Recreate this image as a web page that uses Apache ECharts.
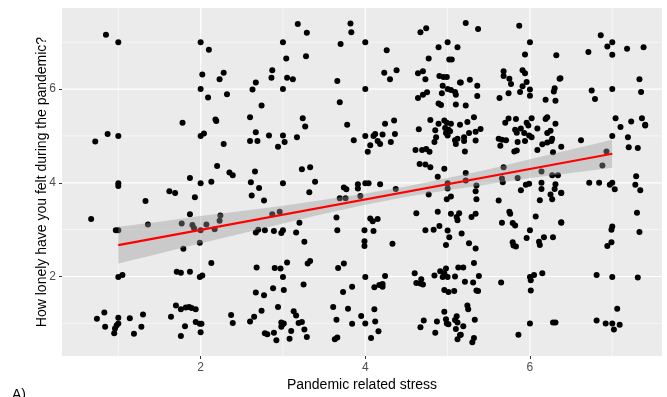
<!DOCTYPE html>
<html><head><meta charset="utf-8">
<script src="https://cdn.jsdelivr.net/npm/echarts@6/dist/echarts.min.js"></script>
<style>html,body{margin:0;padding:0;background:#fff}#c{width:667px;height:397px}</style>
</head><body><div id="c"></div>
<script>
// [stress, loneliness]
const points = [
[0.85,7.16],[1.0,7.0],[0.87,5.04],[1.0,5.0],[0.72,4.88],
[2.0,7.0],[2.10,6.84],[2.02,6.31],[2.28,6.35],[2.23,6.21],[2.67,6.14],[2.0,6.0],[2.63,5.99],[2.09,5.82],[2.32,5.89],[1.78,5.28],[2.18,5.35],[2.19,5.32],[2.60,5.40],[2.67,5.08],[2.0,5.0],[2.04,5.05],[2.28,4.83],[2.60,4.89],[2.69,4.89],[2.20,4.36],[1.87,4.10],[2.35,4.22],[2.39,4.16],[2.66,4.24],
[3.18,7.39],[3.82,7.40],[3.29,7.20],[3.83,7.21],[3.0,7.0],[3.70,6.96],[3.04,6.65],[3.28,6.70],[2.87,6.40],[2.86,6.24],[3.05,6.24],[3.12,6.21],[3.66,6.17],[3.0,6.0],[2.74,5.65],[3.69,5.72],[3.24,5.38],[3.27,5.20],[3.78,5.24],[2.83,5.01],[3.0,5.01],[3.17,4.97],[2.94,4.77],[3.02,4.87],[3.86,4.91],[3.23,4.29],[3.33,4.33],
[4.67,7.21],[4.74,7.30],[4.0,7.0],[5.0,7.0],[4.89,6.89],[5.12,6.89],[4.26,6.83],[4.77,6.65],[5.02,6.63],[5.05,6.63],[4.23,6.35],[4.38,6.40],[4.30,6.21],[4.64,6.34],[4.70,6.38],[4.73,6.21],[4.90,6.28],[4.95,6.26],[4.99,6.26],[5.15,6.14],[4.94,6.07],[4.0,6.0],[5.0,6.0],[5.04,5.98],[5.09,5.94],[5.10,5.88],[4.93,5.91],[4.75,5.93],[4.70,5.88],[4.64,5.81],[4.89,5.69],[4.92,5.66],[5.10,5.67],[4.24,5.26],[4.35,5.33],[4.79,5.34],[4.89,5.26],[4.96,5.33],[4.99,5.28],[5.04,5.26],[5.15,5.24],[4.65,5.14],[4.85,5.12],[4.97,5.17],[5.01,5.13],[5.03,5.10],[4.98,5.06],[5.00,5.01],[4.0,5.0],[4.10,5.0],[4.12,5.04],[4.21,5.03],[4.36,5.04],[4.06,4.80],[4.15,4.89],[4.18,4.83],[4.31,4.87],[4.86,4.97],[4.84,4.87],[5.09,4.91],[5.12,4.94],[5.10,4.83],[4.03,4.66],[4.61,4.70],[4.69,4.70],[4.74,4.72],[4.78,4.66],[4.66,4.40],[4.73,4.39],[4.79,4.33],[4.96,4.30],[4.88,4.13],
[5.22,7.41],[5.37,7.28],[5.87,7.35],[6.0,7.0],[5.94,6.74],[6.32,6.72],[5.68,6.38],[5.68,6.28],[5.75,6.22],[5.77,6.11],[5.91,6.40],[5.94,6.34],[5.96,6.15],[5.91,6.06],[5.88,5.94],[6.0,5.99],[6.0,5.86],[6.36,6.22],[6.30,6.02],[6.29,5.95],[6.31,5.75],[6.19,5.77],[5.27,6.20],[5.16,6.14],[5.36,6.07],[5.36,5.85],[5.74,5.91],[5.63,5.81],[5.22,5.65],[5.24,5.30],[5.32,5.40],[5.34,5.09],[5.26,5.06],[5.40,5.15],[5.20,4.97],[5.20,4.89],[5.34,4.90],[5.21,4.67],[5.70,5.28],[5.74,5.37],[5.83,5.36],[5.82,5.13],[5.84,5.07],[5.89,5.16],[5.93,5.06],[5.96,5.28],[5.98,5.22],[6.02,5.38],[6.09,5.16],[6.21,5.40],[6.19,5.36],[6.31,5.26],[6.25,5.11],[6.21,5.06],[5.99,5.01],[6.02,4.97],[6.27,4.94],[6.26,4.89],[6.21,4.86],[5.62,4.94],[5.66,4.92],[5.71,4.91],[5.64,4.79],[5.85,4.87],[5.94,4.89],[5.81,4.67],[5.84,4.69],[6.15,4.82],[6.09,4.70],[6.28,4.65],[5.68,4.33],[5.22,4.21],[5.66,4.09],[5.85,4.10],[6.14,4.24],[6.27,4.16],[6.34,4.16],[5.22,4.05],
[6.86,7.15],[7.0,7.0],[6.94,6.91],[7.0,6.73],[6.71,6.79],[7.18,6.86],[7.38,6.89],[6.37,6.23],[7.33,6.21],[7.35,5.94],[6.75,5.97],[6.79,5.79],[7.0,6.0],[7.04,5.38],[7.10,5.19],[7.23,5.31],[7.36,5.38],[7.40,5.24],[7.40,5.22],[6.38,4.77],[6.62,4.91],[7.0,5.0],[7.19,4.97],[7.20,4.76],[7.31,4.74],[6.93,4.67],[6.88,4.37],[7.29,4.14],
[1.0,3.99],[1.0,3.93],[1.33,3.61],[0.67,3.23],[1.36,3.11],[0.97,2.99],[1.0,2.99],[1.0,1.99],[1.05,2.03],[0.83,1.23],[0.74,1.10],[1.0,1.12],[1.14,1.11],[1.30,1.19],[0.84,0.93],[0.96,0.89],[0.98,0.96],[1.0,1.0],[0.95,0.79],[1.28,0.93],[1.19,0.78],
[2.0,3.99],[2.13,4.02],[2.61,4.01],[1.62,3.82],[1.69,3.78],[1.93,3.69],[2.62,3.73],[2.71,3.89],[1.87,3.33],[2.24,3.30],[2.23,3.19],[1.77,3.13],[1.90,3.10],[1.92,3.03],[2.07,3.11],[2.0,2.99],[2.17,3.01],[2.70,3.0],[2.67,2.94],[1.99,2.72],[1.79,2.59],[2.13,2.29],[1.71,2.10],[1.76,2.08],[1.87,2.10],[1.99,1.99],[2.02,2.02],[2.68,2.19],[2.67,1.66],[1.70,1.38],[1.76,1.30],[1.82,1.34],[1.86,1.35],[1.89,1.33],[1.94,1.30],[1.64,1.14],[1.94,1.03],[1.99,0.99],[2.01,0.99],[1.81,0.94],[1.76,0.73],[2.0,0.81],[2.37,1.18],[2.39,1.01],[2.60,1.04],[2.65,1.14],
[3.0,3.99],[3.39,4.02],[3.32,3.80],[3.74,3.90],[3.77,3.86],[3.91,3.97],[3.91,3.88],[2.77,3.62],[3.69,3.67],[3.76,3.67],[3.94,3.72],[2.87,3.33],[2.96,3.38],[3.20,3.15],[3.65,3.26],[3.66,2.99],[2.78,2.99],[2.89,2.97],[3.0,2.99],[2.98,2.93],[3.16,2.94],[3.26,2.74],[2.90,2.18],[2.97,2.17],[3.05,2.30],[3.30,2.28],[3.33,2.33],[3.67,2.18],[3.74,2.28],[3.0,1.99],[2.77,1.60],[2.88,1.75],[3.01,1.71],[3.25,1.83],[3.73,1.67],[3.84,1.78],[2.74,1.27],[2.94,1.35],[3.13,1.26],[3.16,1.17],[3.19,1.01],[3.23,1.03],[2.98,1.02],[2.99,0.97],[2.98,0.93],[3.01,1.0],[3.26,0.87],[3.10,0.84],[2.78,0.79],[2.81,0.77],[2.89,0.80],[2.92,0.64],[3.08,0.67],[3.29,0.71],[3.61,1.35],[3.65,1.08],[3.79,1.31],[3.84,0.99],[3.63,0.66],[3.66,0.70],
[4.0,3.99],[4.04,3.99],[4.18,3.97],[4.37,3.87],[4.77,3.75],[5.0,3.99],[5.0,3.88],[5.04,3.71],[4.99,3.65],[4.62,3.35],[4.88,3.38],[5.04,3.34],[5.11,3.27],[5.14,3.35],[5.12,3.20],[4.06,3.24],[4.09,3.18],[4.15,3.23],[3.99,2.99],[4.10,2.97],[4.73,2.99],[4.83,3.0],[4.90,3.08],[5.0,2.98],[5.02,2.84],[3.99,2.75],[3.99,2.65],[4.33,2.70],[4.98,2.67],[4.0,1.99],[4.24,2.01],[4.11,1.77],[4.17,1.82],[4.21,1.78],[4.21,1.84],[4.60,2.07],[4.62,1.86],[4.68,1.94],[4.67,1.85],[4.70,1.83],[4.84,2.02],[4.91,2.11],[4.94,1.99],[4.96,2.07],[4.98,2.17],[5.00,1.99],[5.09,2.00],[5.13,2.19],[4.96,1.71],[5.01,1.67],[5.08,1.69],[4.11,1.30],[4.12,1.04],[4.0,1.0],[3.95,1.16],[4.16,0.83],[4.07,0.69],[4.71,1.06],[4.67,0.92],[4.87,1.04],[4.85,0.80],[4.96,1.25],[4.98,1.09],[4.99,1.00],[5.01,0.98],[5.09,1.07],[5.11,1.15],[5.12,1.02],[5.10,0.88],[5.15,0.75],[5.12,0.66],
[5.35,3.94],[5.34,3.82],[5.67,4.01],[5.89,3.84],[5.95,3.96],[5.99,3.98],[6.14,4.0],[6.14,3.87],[6.31,3.97],[6.30,3.87],[6.38,3.78],[6.25,3.75],[6.27,3.65],[6.12,3.63],[5.35,3.65],[5.62,3.62],[5.34,3.34],[5.29,3.27],[5.75,3.38],[5.76,3.34],[5.66,3.15],[5.79,3.14],[5.82,3.09],[6.07,3.28],[6.38,3.15],[5.17,2.92],[6.0,2.99],[5.96,2.82],[5.79,2.73],[5.80,2.66],[5.83,2.64],[6.11,2.74],[6.12,2.67],[6.17,2.84],[6.28,2.84],[5.26,2.71],[5.34,2.60],[5.32,2.29],[5.19,2.19],[5.21,1.89],[5.38,2.01],[5.31,1.87],[5.35,1.70],[5.37,1.69],[5.65,1.87],[6.0,1.99],[6.01,1.92],[6.05,2.03],[6.15,2.07],[6.01,1.70],[5.24,1.38],[5.25,1.30],[5.33,1.08],[5.19,0.94],[5.16,0.76],[5.32,0.69],[5.30,0.60],[5.86,0.76],[6.0,1.0],[6.28,1.02],[6.31,1.02],
[6.72,4.0],[6.84,4.0],[6.97,3.96],[7.0,4.0],[7.03,3.86],[7.28,3.96],[7.34,3.84],[6.38,3.79],[7.30,3.36],[6.38,3.16],[7.0,3.07],[6.99,3.00],[7.33,2.95],[6.99,2.73],[6.94,2.65],[6.81,2.03],[7.0,1.99],[7.31,1.98],[7.06,1.31],[6.81,1.06],[6.92,1.00],[7.0,1.0],[7.09,0.97],[7.02,0.87]
];
const fitX = [1, 7];
const fitY = [2.67, 4.62];
const bandX = [1, 1.5, 2, 2.5, 3, 3.5, 4, 4.5, 5, 5.5, 6, 6.5, 7];
const bandUpper = [3.06, 3.17, 3.29, 3.40, 3.51, 3.64, 3.77, 3.92, 4.10, 4.29, 4.50, 4.71, 4.92];
const bandLower = [2.28, 2.49, 2.71, 2.92, 3.13, 3.34, 3.53, 3.70, 3.84, 3.97, 4.10, 4.21, 4.32];
const majorTicks = [2, 4, 6];
const minorTicks = [1, 3, 5, 7];

const FONT = '"Liberation Sans", Arial, sans-serif';
const X_MIN = 0.316, X_MAX = 7.604, Y_MIN = 0.304, Y_MAX = 7.73;
const chart = echarts.init(document.getElementById('c'));

// grid line items: [value, isX, isMajor]
const gridItems = [];
minorTicks.forEach(v => { gridItems.push([v, 1, 0]); gridItems.push([v, 0, 0]); });
majorTicks.forEach(v => { gridItems.push([v, 1, 1]); gridItems.push([v, 0, 1]); });

chart.setOption({
  animation: false,
  backgroundColor: '#fff',
  grid: {left: 62, right: 5, top: 8, bottom: 40, show: true, backgroundColor: '#EBEBEB', borderWidth: 0},
  xAxis: {
    type: 'value', min: X_MIN, max: X_MAX,
    splitLine: {show: false}, axisLine: {show: false},
    axisTick: {show: true, length: 3, lineStyle: {color: '#333', width: 1}, customValues: majorTicks},
    axisLabel: {customValues: majorTicks, color: '#4D4D4D', fontSize: 12, margin: 6, fontFamily: FONT},
    name: 'Pandemic related stress', nameLocation: 'middle', nameGap: 22, nameMoveOverlap: false,
    nameTextStyle: {color: '#000', fontSize: 14, fontFamily: FONT}
  },
  yAxis: {
    type: 'value', min: Y_MIN, max: Y_MAX,
    splitLine: {show: false}, axisLine: {show: false},
    axisTick: {show: true, length: 3, lineStyle: {color: '#333', width: 1}, customValues: majorTicks},
    axisLabel: {customValues: majorTicks, color: '#4D4D4D', fontSize: 12, margin: 6, fontFamily: FONT},
    name: 'How lonely have you felt during the pandemic?', nameLocation: 'middle', nameGap: 13, nameMoveOverlap: false,
    nameTextStyle: {color: '#000', fontSize: 14, fontFamily: FONT}
  },
  graphic: [{type: 'text', left: 12, top: 388, style: {text: 'A)', fontSize: 14, fill: '#000', fontFamily: FONT}}],
  series: [
    {type: 'custom', z: 1, silent: true, clip: true,
     data: gridItems,
     renderItem: function (params, api) {
       const v = api.value(0), isX = api.value(1), major = api.value(2);
       const a = isX ? api.coord([v, Y_MIN]) : api.coord([X_MIN, v]);
       const b = isX ? api.coord([v, Y_MAX]) : api.coord([X_MAX, v]);
       return {type: 'line', shape: {x1: a[0], y1: a[1], x2: b[0], y2: b[1]},
               style: {stroke: '#fff', lineWidth: major ? 1.2 : 0.6}};
     }},
    {type: 'scatter', data: points, symbolSize: 6, itemStyle: {color: '#000', opacity: 1}, z: 2, silent: true},
    {type: 'custom', z: 3, silent: true,
     data: bandX.map((x, i) => [x, bandUpper[i], bandLower[i]]),
     renderItem: function (params, api) {
       if (params.dataIndex !== 0) return;
       const pts = [];
       for (let i = 0; i < bandX.length; i++) pts.push(api.coord([bandX[i], bandUpper[i]]));
       for (let i = bandX.length - 1; i >= 0; i--) pts.push(api.coord([bandX[i], bandLower[i]]));
       return {type: 'polygon', shape: {points: pts}, style: {fill: 'rgba(153,153,153,0.4)'}};
     }},
    {type: 'line', data: fitX.map((x, i) => [x, fitY[i]]), symbol: 'none', z: 4, silent: true,
     lineStyle: {color: '#FF0000', width: 2.2}}
  ]
});
</script>
</body></html>
